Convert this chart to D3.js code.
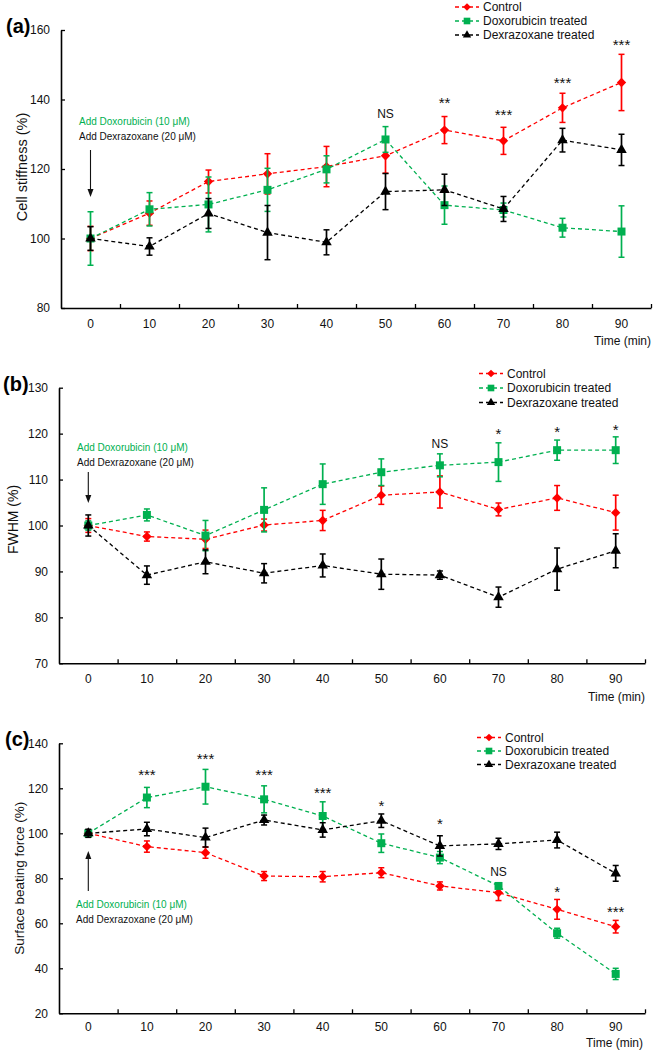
<!DOCTYPE html>
<html><head><meta charset="utf-8">
<script src="https://cdn.jsdelivr.net/npm/d3@7"></script>
<style>
body{margin:0;background:#fff}
svg{display:block}
text{font-family:"Liberation Sans",Arial,Helvetica,sans-serif}
</style>
</head><body>
<svg id="chart" width="654" height="1050"></svg>
<script>
// ---------- DATA ----------
const times = [0, 10, 20, 30, 40, 50, 60, 70, 80, 90];
const seriesNames = ["Control", "Doxorubicin treated", "Dexrazoxane treated"];

// (a) Cell stiffness (%)
const controlA    = [100, 107.3, 116.4, 118.6, 120.7, 123.8, 131.2, 128.1, 137.6, 144.9];
const controlAErr = [3.5, 3.5, 3.3, 5.8, 5.8, 5.0, 3.9, 3.9, 4.2, 8.1];
const doxA        = [100, 108.4, 109.8, 114.0, 119.9, 128.5, 109.6, 108.2, 103.1, 102.0];
const doxAErr     = [7.7, 4.8, 7.9, 6.2, 3.9, 3.7, 5.5, 2.0, 2.7, 7.4];
const dexA        = [100, 97.7, 107.2, 101.7, 98.9, 113.5, 114.0, 108.5, 128.3, 125.5];
const dexAErr     = [3.4, 2.5, 4.3, 7.8, 3.6, 5.2, 4.5, 3.6, 3.4, 4.5];
const yTicksA     = [80, 100, 120, 140, 160];
const sigTimesA   = [50, 60, 70, 80, 90];
const sigLabelsA  = ["NS", "**", "***", "***", "***"];
const sigValuesA  = [134.7, 137.6, 134.1, 143.3, 154.2];

// (b) FWHM (%)
const controlB    = [100, 97.6, 97.0, 100.1, 101.1, 106.6, 107.3, 103.5, 106.0, 102.8];
const controlBErr = [1.5, 1.0, 2.0, 1.3, 2.2, 2.0, 3.5, 1.4, 2.7, 3.8];
const doxB        = [100, 102.3, 97.8, 103.4, 109.0, 111.6, 113.1, 113.8, 116.4, 116.4];
const doxBErr     = [1.0, 1.3, 3.3, 4.8, 4.4, 2.9, 2.5, 4.2, 2.2, 2.9];
const dexB        = [100, 89.2, 92.1, 89.6, 91.3, 89.4, 89.2, 84.4, 90.5, 94.5];
const dexBErr     = [2.3, 2.0, 2.6, 2.1, 2.5, 3.3, 0.9, 2.2, 4.6, 3.7];
const yTicksB     = [70, 80, 90, 100, 110, 120, 130];
const sigTimesB   = [60, 70, 80, 90];
const sigLabelsB  = ["NS", "*", "*", "*"];
const sigValuesB  = [116.8, 118.8, 119.2, 119.6];

// (c) Surface beating force (%)
const controlC    = [100, 94.1, 91.4, 81.0, 80.7, 82.5, 76.6, 73.6, 66.2, 58.5];
const controlCErr = [1.5, 2.5, 2.5, 2.0, 2.3, 2.2, 1.8, 3.5, 4.4, 2.8];
const doxC        = [100, 115.9, 120.7, 115.1, 107.7, 95.6, 89.2, 76.6, 55.6, 37.5];
const doxCErr     = [1.5, 4.5, 7.7, 6.0, 6.3, 4.1, 2.7, 1.0, 2.2, 2.5];
const dexC        = [100, 101.9, 98.1, 105.9, 101.5, 105.6, 94.4, 95.3, 97.0, 82.2];
const dexCErr     = [1.8, 3.0, 4.2, 2.2, 3.2, 3.0, 4.5, 2.5, 3.5, 3.5];
const yTicksC     = [20, 40, 60, 80, 100, 120, 140];
const sigTimesC   = [10, 20, 30, 40, 50, 60, 70, 80, 90];
const sigLabelsC  = ["***", "***", "***", "***", "*", "*", "NS", "*", "***"];
const sigValuesC  = [123.7, 130.8, 123.7, 115.9, 109.9, 101.9, 81.0, 71.9, 63.0];

const annotLine1 = "Add Doxorubicin (10 \u03bcM)";
const annotLine2 = "Add Dexrazoxane (20 \u03bcM)";

// ---------- STYLE ----------
const RED = "#ff0000", GREEN = "#00b050", BLACK = "#000000";
const colors = [RED, GREEN, BLACK];
const shapes = ["diamond", "square", "triangle"];

const svg = d3.select("#chart");

function symbolPath(shape, big) {
  if (shape === "square") return d3.symbol(d3.symbolSquare, big ? 64 : 44)();
  if (shape === "diamond") return d3.symbol(d3.symbolSquare, big ? 44 : 30)();
  return d3.symbol(d3.symbolTriangle, big ? 48 : 30)();
}
function symbolTransform(shape, x, y) {
  return `translate(${x},${y})` + (shape === "diamond" ? " rotate(45)" : "");
}

function drawPanel(cfg) {
  const g = svg.append("g");
  const xBand = d3.scaleBand().domain(times).range([cfg.x0, cfg.x1]).padding(0);
  const xEdge = d3.scaleLinear().domain([0, times.length]).range([cfg.x0, cfg.x1]);
  const y = d3.scaleLinear().domain(cfg.domain).range([cfg.yBot, cfg.yTop]);
  const cx = t => xBand(t) + xBand.bandwidth() / 2;

  // y axis
  const ya = g.append("g").attr("transform", `translate(${cfg.x0},0)`)
    .call(d3.axisLeft(y).tickValues(cfg.yTicks).tickSize(-4).tickSizeOuter(0).tickPadding(11));
  ya.select(".domain").attr("stroke-width", 1.6);
  ya.selectAll(".tick line").attr("stroke-width", 1.3);
  ya.selectAll("text").attr("font-size", 12).attr("font-family", '"Liberation Sans",Arial,sans-serif').attr("fill", "#111");

  // x axis (boundary ticks)
  const xa = g.append("g").attr("transform", `translate(0,${cfg.yBot})`)
    .call(d3.axisBottom(xEdge).tickValues(d3.range(1, times.length + 1)).tickSize(-4).tickSizeOuter(0).tickFormat(""));
  xa.select(".domain").attr("stroke-width", 1.6);
  xa.selectAll(".tick line").attr("stroke-width", 1.3);
  // x labels (category centers)
  const xl = g.append("g").attr("transform", `translate(0,${cfg.yBot})`)
    .call(d3.axisBottom(xBand).tickSize(0).tickPadding(cfg.xPad));
  xl.select(".domain").remove();
  xl.selectAll("text").attr("font-size", 12).attr("font-family", '"Liberation Sans",Arial,sans-serif').attr("fill", "#111");

  // axis titles
  g.append("text")
    .attr("transform", `translate(${cfg.yTitleX},${(cfg.yTop + cfg.yBot) / 2 + cfg.yTitleDy}) rotate(-90)`)
    .attr("text-anchor", "middle").attr("dy", "0.35em")
    .attr("font-size", cfg.yTitleSize).attr("fill", "#111").text(cfg.yTitle);
  g.append("text").attr("x", cfg.timeX).attr("y", cfg.timeY)
    .attr("text-anchor", "end").attr("font-size", 12).attr("fill", "#111").text("Time (min)");

  // panel label
  g.append("text").attr("x", cfg.labelX).attr("y", cfg.labelY)
    .attr("font-size", 20).attr("font-weight", "bold").attr("fill", "#000").text(cfg.label);

  // series
  const series = [
    {vals: cfg.ctrl, err: cfg.ctrlErr},
    {vals: cfg.dox, err: cfg.doxErr},
    {vals: cfg.dex, err: cfg.dexErr}
  ];
  const line = d3.line().x((d, i) => cx(times[i])).y(d => y(d));
  series.forEach((s, k) => {
    const col = colors[k];
    const sg = g.append("g");
    sg.append("path").attr("d", line(s.vals)).attr("fill", "none")
      .attr("stroke", col).attr("stroke-width", 1.3).attr("stroke-dasharray", "4,3");
    s.vals.forEach((v, i) => {
      const x = cx(times[i]), e = s.err[i];
      const yt = y(v + e), yb = y(v - e);
      sg.append("line").attr("x1", x).attr("x2", x).attr("y1", yt).attr("y2", yb)
        .attr("stroke", col).attr("stroke-width", 1.7);
      [yt, yb].forEach(yy => sg.append("line").attr("x1", x - 3).attr("x2", x + 3)
        .attr("y1", yy).attr("y2", yy).attr("stroke", col).attr("stroke-width", 1.5));
    });
    s.vals.forEach((v, i) => {
      sg.append("path").attr("d", symbolPath(shapes[k], true))
        .attr("transform", symbolTransform(shapes[k], cx(times[i]), y(v)))
        .attr("fill", col);
    });
  });

  // significance labels
  cfg.sigTimes.forEach((t, i) => {
    const lab = cfg.sigLabels[i];
    g.append("text").attr("x", cx(t)).attr("y", y(cfg.sigValues[i]))
      .attr("text-anchor", "middle")
      .attr("font-size", lab === "NS" ? 12 : 15)
      .attr("fill", "#111").text(lab);
  });

  // legend
  seriesNames.forEach((name, k) => {
    const ly = cfg.legY + k * cfg.legStep;
    g.append("line").attr("x1", cfg.legX).attr("x2", cfg.legX + 24).attr("y1", ly).attr("y2", ly)
      .attr("stroke", colors[k]).attr("stroke-width", 1.3).attr("stroke-dasharray", "4,3");
    g.append("path").attr("d", symbolPath(shapes[k], false))
      .attr("transform", symbolTransform(shapes[k], cfg.legX + 12, ly)).attr("fill", colors[k]);
    g.append("text").attr("x", cfg.legX + 28).attr("y", ly).attr("dy", "0.35em")
      .attr("font-size", 12).attr("fill", "#111").text(name);
  });

  // annotation
  g.append("text").attr("x", cfg.annX).attr("y", cfg.annY1).attr("font-size", 10)
    .attr("fill", GREEN).text(annotLine1);
  g.append("text").attr("x", cfg.annX).attr("y", cfg.annY1 + 14.5).attr("font-size", 10)
    .attr("fill", "#111").text(annotLine2);
  const ax = cx(times[0]);
  const dir = cfg.arrowTo > cfg.arrowFrom ? 1 : -1;
  g.append("line").attr("x1", ax).attr("x2", ax).attr("y1", cfg.arrowFrom).attr("y2", cfg.arrowTo - dir * 6)
    .attr("stroke", "#111").attr("stroke-width", 1.1);
  g.append("path").attr("d", `M${ax},${cfg.arrowTo} L${ax - 3},${cfg.arrowTo - dir * 8} L${ax + 3},${cfg.arrowTo - dir * 8} Z`)
    .attr("fill", "#111");
}

drawPanel({
  label: "(a)", labelX: 6, labelY: 33,
  x0: 61, x1: 651, yTop: 30, yBot: 308, domain: [80, 160], yTicks: yTicksA, xPad: 11.5,
  yTitle: "Cell stiffness (%)", yTitleX: 22, yTitleDy: -2, yTitleSize: 14.5,
  timeX: 651, timeY: 345,
  ctrl: controlA, ctrlErr: controlAErr, dox: doxA, doxErr: doxAErr, dex: dexA, dexErr: dexAErr,
  sigTimes: sigTimesA, sigLabels: sigLabelsA, sigValues: sigValuesA,
  legX: 455, legY: 7, legStep: 14,
  annX: 79, annY1: 125, arrowFrom: 150, arrowTo: 197
});
drawPanel({
  label: "(b)", labelX: 3, labelY: 391,
  x0: 59, x1: 645, yTop: 387.7, yBot: 663.3, domain: [70, 130], yTicks: yTicksB, xPad: 11.5,
  yTitle: "FWHM (%)", yTitleX: 13, yTitleDy: -6, yTitleSize: 14,
  timeX: 645, timeY: 701,
  ctrl: controlB, ctrlErr: controlBErr, dox: doxB, doxErr: doxBErr, dex: dexB, dexErr: dexBErr,
  sigTimes: sigTimesB, sigLabels: sigLabelsB, sigValues: sigValuesB,
  legX: 479, legY: 373.5, legStep: 14.5,
  annX: 77, annY1: 451, arrowFrom: 472, arrowTo: 503
});
drawPanel({
  label: "(c)", labelX: 5, labelY: 746,
  x0: 59, x1: 645, yTop: 743.3, yBot: 1013.3, domain: [20, 140], yTicks: yTicksC, xPad: 9.5,
  yTitle: "Surface beating force (%)", yTitleX: 19, yTitleDy: 0, yTitleSize: 13.5,
  timeX: 643, timeY: 1046.5,
  ctrl: controlC, ctrlErr: controlCErr, dox: doxC, doxErr: doxCErr, dex: dexC, dexErr: dexCErr,
  sigTimes: sigTimesC, sigLabels: sigLabelsC, sigValues: sigValuesC,
  legX: 477, legY: 737.5, legStep: 13.5,
  annX: 76, annY1: 908, arrowFrom: 891, arrowTo: 851
});
</script>
</body></html>
